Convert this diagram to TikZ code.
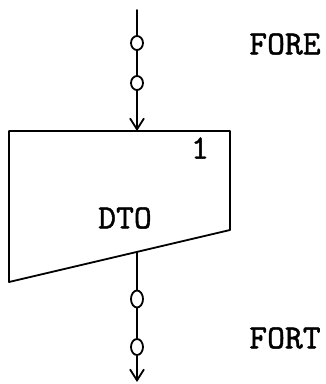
\documentclass[tikz,border=0pt]{standalone}
\usepackage{fontspec}
\newfontfamily\tw{lmmono10-regular.otf}[FakeBold=1.2]
\usetikzlibrary{arrows.meta,shapes.geometric}
\begin{document}
\begin{tikzpicture}[x=1pt,y=-1pt,
  ln/.style={line width=1.8pt,line cap=round},
  arr/.style={ln,-{Straight Barb[length=11pt,width=14pt,line width=1.8pt]}},
  ring/.style={ellipse,draw,line width=1.8pt,minimum width=12pt,minimum height=14pt,inner sep=0pt},
  lbl/.style={font=\fontsize{34}{40}\tw,inner sep=0pt}]
\useasboundingbox (0,0) rectangle (326,384);
% box corners
\coordinate (tl) at (9,131);
\coordinate (tr) at (230,131);
\coordinate (br) at (230,230);
\coordinate (bl) at (9,282);
\draw[ln,line join=round] (tl) -- (tr) -- (br) -- (bl) -- cycle;
\node[lbl] (one) at (200,148) {1};
\node[lbl] (dto) at (125,218) {DTO};
% top connector
\coordinate (in) at (137,10);
\node[ring] (c1) at (137,43) {};
\node[ring] (c2) at (137,83) {};
\coordinate (boxin) at (137,131);
\draw[ln] (in) -- (c1);
\draw[ln] (c1) -- (c2);
\draw[arr] (c2) -- (boxin);
\node[lbl] (fore) at (285,44) {FORE};
% bottom connector
\coordinate (boxout) at (137,252);
\node[ring,minimum height=17pt] (c3) at (137,299) {};
\node[ring,minimum height=16pt] (c4) at (137,347) {};
\coordinate (out) at (137,382);
\draw[ln] (boxout) -- (c3);
\draw[ln] (c3) -- (c4);
\draw[arr] (c4) -- (out);
\node[lbl] (fort) at (285,338) {FORT};
\end{tikzpicture}
\end{document}
